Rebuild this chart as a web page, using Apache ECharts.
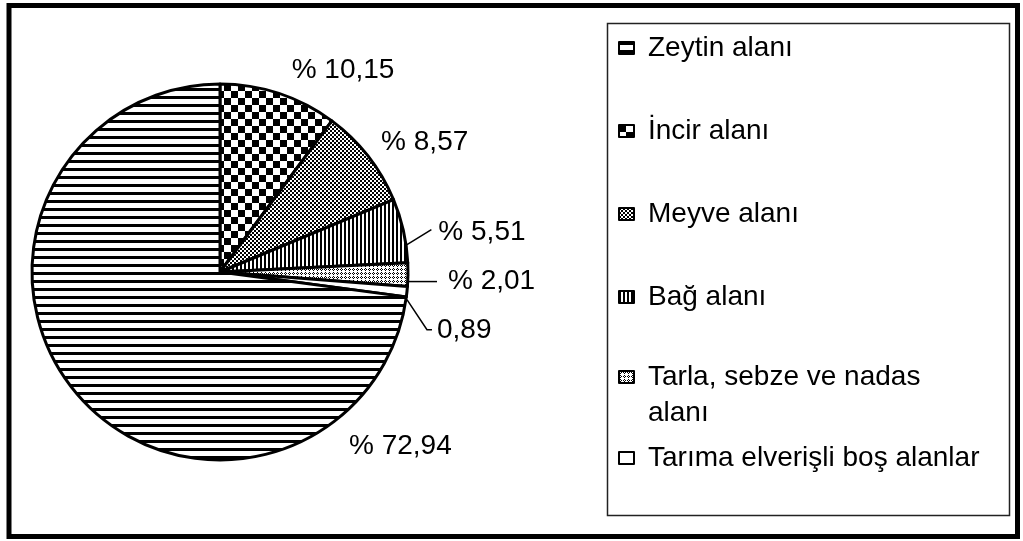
<!DOCTYPE html>
<html><head><meta charset="utf-8">
<script src="https://cdn.jsdelivr.net/npm/echarts@6/dist/echarts.min.js"></script>
<style>html,body{margin:0;padding:0;background:#fff}#c{width:1023px;height:541px}</style>
</head><body><div id="c"></div>
<script>
// ---- data (slice order, clockwise from 12 o'clock) ----
const sliceNames = ['İncir alanı', 'Meyve alanı', 'Bağ alanı', 'Tarla, sebze ve nadas alanı', 'Tarıma elverişli boş alanlar', 'Zeytin alanı'];
const sliceValues = [10.15, 8.57, 5.51, 2.01, 0.89, 72.94];
const sliceLabels = ['% 10,15', '% 8,57', '% 5,51', '% 2,01', '0,89', '% 72,94'];
// ---- legend order ----
const legendOrder = ['Zeytin alanı', 'İncir alanı', 'Meyve alanı', 'Bağ alanı', 'Tarla, sebze ve nadas alanı', 'Tarıma elverişli boş alanlar'];
const legendText = {'Tarla, sebze ve nadas alanı': '{t|Tarla, sebze ve nadas}\n{t|alanı}'};

// ---- patterns (styles) ----
function pat(w, h, draw) {
  const c = document.createElement('canvas');
  c.width = w; c.height = h;
  const g = c.getContext('2d');
  g.fillStyle = '#fff'; g.fillRect(0, 0, w, h);
  g.fillStyle = '#000'; draw(g);
  return {image: c, repeat: 'repeat'};
}
const fills = {
  'Zeytin alanı': pat(8, 8, g => g.fillRect(0, 0, 8, 3)),
  'İncir alanı': pat(14, 14, g => { g.fillRect(0, 0, 7, 7); g.fillRect(7, 7, 7, 7); }),
  'Meyve alanı': pat(4, 4, g => { g.fillRect(0, 0, 2, 2); g.fillRect(2, 2, 2, 2); }),
  'Bağ alanı': pat(4, 4, g => g.fillRect(0, 0, 2, 4)),
  'Tarla, sebze ve nadas alanı': pat(4, 4, g => { g.fillRect(1, 0, 1, 1); g.fillRect(0, 1, 1, 1); g.fillRect(2, 1, 1, 1); g.fillRect(1, 2, 1, 1); }),
  'Tarıma elverişli boş alanlar': '#ffffff'
};
const labelStyles = [
  {labelLine: {show: false, length: 24.7, length2: 0}},
  {labelLine: {show: false, length: 23, length2: 0}, label: {distanceToLabelLine: -5}},
  {labelLine: {show: true, length: 25, length2: 5}},
  {labelLine: {show: true, length: 15, length2: 14}},
  {labelLine: {show: true, length: 15, length2: 10}},
  {labelLine: {show: false}}
];

const FONT = 'Liberation Sans, Arial, Helvetica, sans-serif';
const chart = echarts.init(document.getElementById('c'), null, {renderer: 'canvas'});

const legendTextStyle = {fontSize: 28, fontFamily: FONT, color: '#000', lineHeight: 36, padding: [0, 0, 0, 9],
  rich: {t: {fontSize: 28, fontFamily: FONT, color: '#000', lineHeight: 36}}};
const legendBase = {
  orient: 'vertical', left: 618, padding: 0, itemWidth: 15, itemHeight: 12, itemGap: 47,
  icon: 'rect', selectedMode: false,
  formatter: n => legendText[n] || n,
  textStyle: legendTextStyle,
  itemStyle: {borderColor: '#000', borderWidth: 2}
};

chart.setOption({
  animation: false,
  backgroundColor: '#fff',
  legend: [
    Object.assign({}, legendBase, {top: 30, data: legendOrder.slice(0, 4)}),
    Object.assign({}, legendBase, {top: 323, data: [legendOrder[4]],
      textStyle: Object.assign({}, legendTextStyle, {padding: [36, 0, 0, 9]})}),
    Object.assign({}, legendBase, {top: 440, data: [legendOrder[5]]})
  ],
  graphic: [
    {type: 'rect', shape: {x: 9, y: 5.5, width: 1008.5, height: 531}, style: {fill: 'none', stroke: '#000', lineWidth: 5}},
    {type: 'rect', shape: {x: 607.5, y: 23.5, width: 402, height: 492}, style: {fill: 'none', stroke: '#222', lineWidth: 1.5}}
  ],
  series: [{
    type: 'pie',
    center: [220, 272],
    radius: 188,
    startAngle: 90,
    clockwise: true,
    avoidLabelOverlap: false,
    emphasis: {disabled: true},
    itemStyle: {borderColor: '#000', borderWidth: 3},
    label: {
      show: true, position: 'outside', fontSize: 28, fontFamily: FONT, color: '#000',
      formatter: p => sliceLabels[p.dataIndex]
    },
    labelLine: {lineStyle: {color: '#000', width: 1.5}, smooth: false},
    labelLayout: function (p) {
      const i = p.dataIndex;
      if (i === 2 && p.labelLinePoints) {
        const a = p.labelLinePoints[0];
        return {x: a[0] + 35, y: a[1] + 1.5, align: 'left',
          labelLinePoints: [[a[0] + 2, a[1] + 15], [a[0] + 28, a[1] - 1]]};
      }
      if (i === 3 && p.labelLinePoints) {
        const a = p.labelLinePoints[0];
        const y = a[1] + 7;
        return {x: a[0] + 40, y: y, align: 'left', labelLinePoints: [[a[0], y], [a[0] + 29, y]]};
      }
      if (i === 4 && p.labelLinePoints) {
        const a = p.labelLinePoints[0];
        return {x: a[0] + 30, y: a[1] + 39, align: 'left',
          labelLinePoints: [[a[0], a[1] + 8], [a[0] + 20, a[1] + 38], [a[0] + 25, a[1] + 38]]};
      }
      if (i === 5) return {x: 349, y: 446, align: 'left'};
      return {};
    },
    data: sliceNames.map((n, i) => Object.assign({
      name: n, value: sliceValues[i],
      itemStyle: {color: fills[n]}
    }, labelStyles[i]))
  }]
});
</script></body></html>
